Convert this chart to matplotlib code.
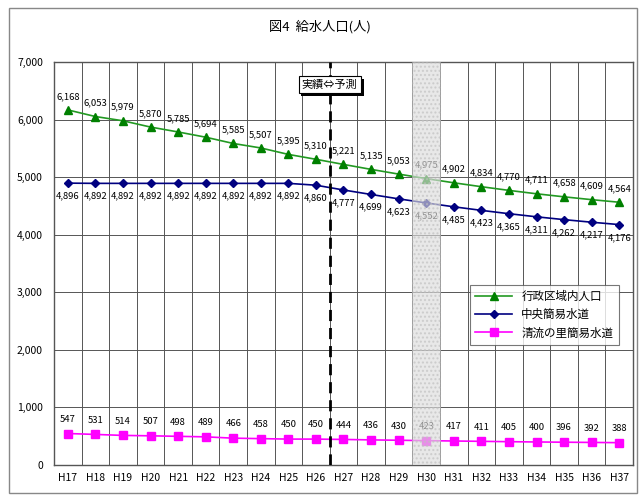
import matplotlib
matplotlib.use("Agg")
import matplotlib.pyplot as plt
import matplotlib.patheffects as pe
from matplotlib.patches import Rectangle
from matplotlib.ticker import FuncFormatter

plt.rcParams['font.family'] = ['Noto Sans CJK JP', 'DejaVu Sans']

# データ
years = ["H17", "H18", "H19", "H20", "H21", "H22", "H23", "H24", "H25", "H26",
         "H27", "H28", "H29", "H30", "H31", "H32", "H33", "H34", "H35", "H36", "H37"]
gyosei = [6168, 6053, 5979, 5870, 5785, 5694, 5585, 5507, 5395, 5310,
          5221, 5135, 5053, 4975, 4902, 4834, 4770, 4711, 4658, 4609, 4564]
chuo = [4896, 4892, 4892, 4892, 4892, 4892, 4892, 4892, 4892, 4860,
        4777, 4699, 4623, 4552, 4485, 4423, 4365, 4311, 4262, 4217, 4176]
seiryu = [547, 531, 514, 507, 498, 489, 466, 458, 450, 450,
          444, 436, 430, 423, 417, 411, 405, 400, 396, 392, 388]
names = ["行政区域内人口", "中央簡易水道", "清流の里簡易水道"]
highlight = "H30"
split_after = "H26"

fig = plt.figure(figsize=(6.4, 4.98), dpi=100)
fig.patches.append(Rectangle((9 / 640, 1 - 493 / 498), 628 / 640, 485 / 498,
                             transform=fig.transFigure, fill=False,
                             edgecolor="#888888", lw=1.0))
fig.text(0.5, 1 - 27 / 498, "図4  給水人口(人)", ha="center", va="center",
         fontsize=9.5)

ax = fig.add_axes([54 / 640, 1 - 465 / 498, 579 / 640, 403 / 498])
x = list(range(len(years)))

ax.plot(x, gyosei, color="#229922", lw=1.2, marker="^", ms=6,
        mfc="#008000", mec="#008000", label=names[0], zorder=3)
ax.plot(x, chuo, color="#000080", lw=1.2, marker="D", ms=4.5,
        mfc="#000080", mec="#000080", label=names[1], zorder=3)
ax.plot(x, seiryu, color="#ff00ff", lw=1.2, marker="s", ms=6,
        mfc="#ff00ff", mec="#ff00ff", label=names[2], zorder=3)

for xi, g, c, s in zip(x, gyosei, chuo, seiryu):
    ax.annotate(f"{g:,}", (xi, g), xytext=(0, 6.5), textcoords="offset points",
                ha="center", va="bottom", fontsize=6.8)
    ax.annotate(f"{c:,}", (xi, c), xytext=(0, -6), textcoords="offset points",
                ha="center", va="top", fontsize=6.8)
    ax.annotate(f"{s:,}", (xi, s), xytext=(0, 7), textcoords="offset points",
                ha="center", va="bottom", fontsize=6.8)

ax.set_xlim(-0.5, len(years) - 0.5)
ax.set_ylim(0, 7000)
ax.set_yticks(range(0, 7001, 1000))
ax.yaxis.set_major_formatter(FuncFormatter(lambda v, p: f"{int(v):,}"))
ax.set_xticks(x)
ax.set_xticklabels(years)
ax.tick_params(axis="both", length=0, labelsize=7.5)
ax.tick_params(axis="x", pad=6)
ax.tick_params(axis="y", pad=8)

for b in range(1, len(years)):
    ax.axvline(b - 0.5, color="#555555", lw=0.7, zorder=1)
ax.yaxis.grid(True, color="#555555", lw=0.7, zorder=1)
ax.set_axisbelow(True)
for sp in ax.spines.values():
    sp.set_color("#555555")
    sp.set_linewidth(1.0)

# 予測年度の網掛け
hi = years.index(highlight)
ax.add_patch(Rectangle((hi - 0.5, 0), 1, 7000, facecolor="#dcdcdc",
                       edgecolor="#c0c0c0", hatch="....", lw=0.5,
                       alpha=0.65, zorder=5))

# 実績⇔予測 の境界
sp_x = years.index(split_after) + 0.5
ax.axvline(sp_x, color="black", lw=2, ls=(0, (4, 2.5)), zorder=4)
lbl = ax.text(sp_x, 6610, "実績⇔予測", ha="center", va="center", fontsize=8,
              zorder=6,
              bbox=dict(boxstyle="square,pad=0.3", facecolor="white",
                        edgecolor="black", lw=0.8))
lbl.get_bbox_patch().set_path_effects(
    [pe.SimplePatchShadow(offset=(2, -2), shadow_rgbFace="black", alpha=1.0),
     pe.Normal()])

leg = ax.legend(loc="upper right", bbox_to_anchor=(0.975, 0.447),
                borderaxespad=0, fontsize=8.3,
                frameon=True, fancybox=False, edgecolor="#555555",
                handlelength=3.2, borderpad=0.45, labelspacing=0.45)
leg.get_frame().set_linewidth(0.8)
leg.set_zorder(7)

fig.savefig("out.png", dpi=100)
